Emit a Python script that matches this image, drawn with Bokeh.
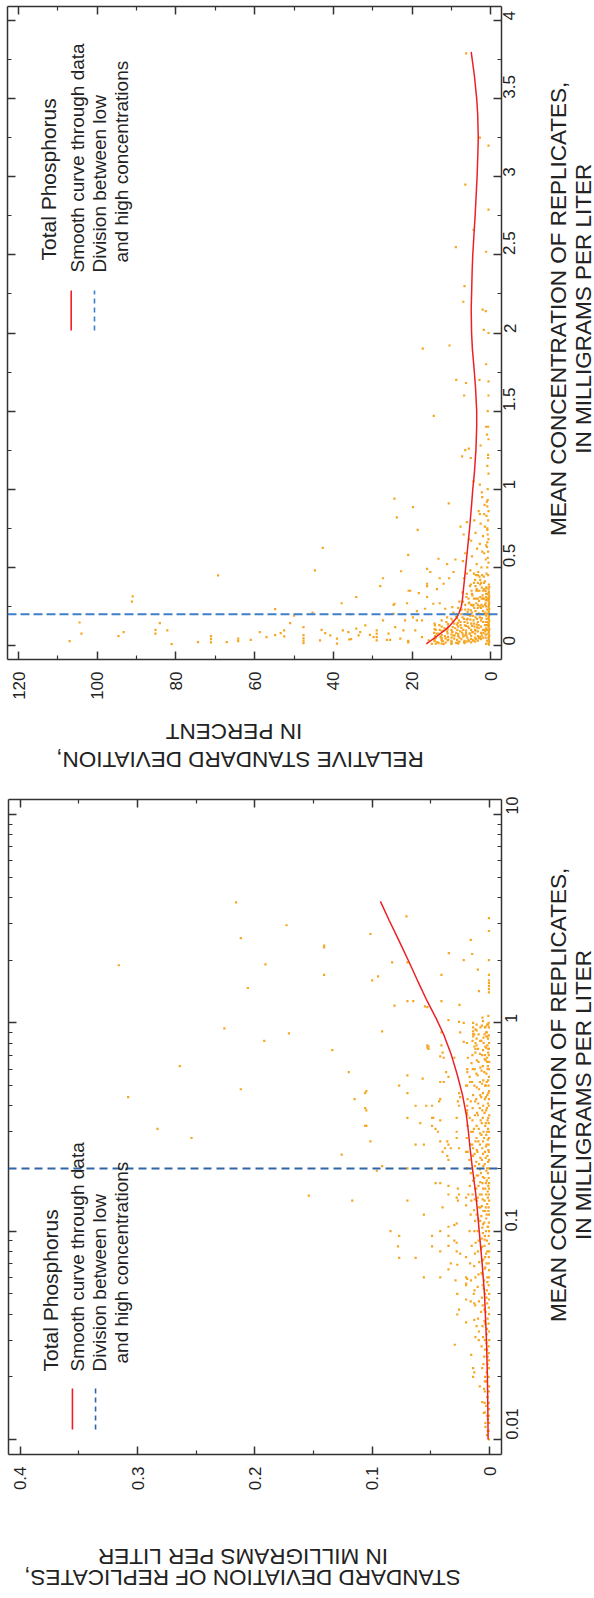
import math
from bokeh.plotting import figure
from bokeh.layouts import column, row
from bokeh.models import (Range1d, LinearAxis, LogAxis, FixedTicker,
                          CustomJSTickFormatter, Span, Label)
from bokeh.embed import file_html
from bokeh.resources import INLINE

# ---------------------------------------------------------------- data
# Upper panel: relative standard deviation (percent) vs mean concentration (mg/L)
top_conc_a = [3.79, 3.25, 3.20, 2.95, 2.79, 2.66, 2.55, 2.52, 2.30, 2.20,
              2.15, 2.14, 2.02, 2.00, 1.90, 1.92, 1.80, 1.70, 1.68, 1.70,
              1.69, 1.60, 1.60, 1.47, 1.40, 1.40, 1.32, 1.25, 1.26, 1.21,
              1.20, 1.20, 1.10, 1.05, 1.03, 0.98, 0.95, 0.94, 0.91, 0.89]
top_rsd_a = [6.3, 2.8, 0.6, 6.5, 0.6, 4.4, 8.9, 1.2, 6.7, 7.0,
             2.1, 1.3, 1.8, 0.6, 17.3, 10.5, 1.2, 8.8, 6.3, 2.9,
             0.6, 6.8, 0.6, 14.5, 0.7, 1.2, 0.6, 6.5, 5.6, 7.3,
             5.1, 0.7, 0.6, 4.4, 2.8, 2.3, 2.2, 24.5, 10.7, 0.9]

top_conc_b = [0.885, 0.84, 0.84, 0.82, 0.79, 0.76, 0.74, 0.78, 0.76, 0.71,
              0.68, 0.625, 0.66, 0.65, 0.59, 0.58, 0.59, 0.555, 0.55, 0.54,
              0.52, 0.48, 0.49, 0.475, 0.47, 0.46, 0.47, 0.44, 0.43, 0.43,
              0.43, 0.38, 0.38, 0.395, 0.31, 0.335, 0.35, 0.36, 0.31, 0.27,
              0.26, 0.27, 0.22, 0.235, 0.21, 0.20, 0.16]
top_rsd_b = [19.8, 2.8, 1.7, 23.9, 6.1, 7.7, 18.6, 2.6, 1.5, 6.9,
             5.6, 42.7, 0.9, 2.8, 6.5, 21.0, 1.7, 13.3, 9.0, 7.1,
             11.1, 44.7, 16.2, 22.8, 9.5, 6.1, 3.2, 1.8, 27.4, 13.0,
             10.6, 28.1, 16.2, 12.0, 34.2, 18.3, 20.5, 13.7, 16.2, 37.9,
             24.7, 13.0, 18.8, 11.6, 45.3, 35.7, 17.5]

top_conc_c = [0.448, 0.314, 0.28, 0.232, 0.147, 0.075, 0.028, 0.06, 0.085, 0.10,
              0.075, 0.143, 0.096, 0.008, 0.021, 0.06, 0.04, 0.02, 0.021, 0.043,
              0.028, 0.036, 0.085, 0.053, 0.066, 0.079, 0.096, 0.058, 0.143, 0.19]
top_rsd_c = [69.3, 91.0, 91.2, 54.8, 104.5, 104.0, 107.0, 94.6, 93.3, 85.2,
             85.2, 84.1, 82.2, 81.1, 74.4, 71.1, 71.1, 71.1, 67.1, 64.2,
             64.2, 61.0, 58.7, 57.0, 54.8, 53.4, 52.5, 52.5, 51.0, 50.0]

top_conc_d = [0.117, 0.066, 0.045, 0.03, 0.015, 0.032, 0.10, 0.079, 0.064, 0.043,
              0.011, 0.096, 0.085, 0.038, 0.04, 0.107, 0.064, 0.085, 0.128, 0.068,
              0.053, 0.032, 0.053, 0.075, 0.096, 0.16, 0.036, 0.075, 0.036, 0.203,
              0.267, 0.117, 0.043, 0.096, 0.16, 0.27, 0.35, 0.02, 0.025, 0.03,
              0.18, 0.096, 0.16, 0.053, 0.235, 0.395, 0.032, 0.47, 0.267, 0.128,
              0.10, 0.075]
top_rsd_d = [47.6, 47.6, 47.6, 47.6, 47.6, 43.4, 43.0, 42.1, 40.8, 39.1,
             39.1, 37.6, 36.2, 36.0, 35.5, 34.2, 33.6, 33.2, 31.9, 30.7,
             29.8, 29.0, 29.0, 29.0, 29.0, 27.4, 26.4, 26.0, 25.6, 24.7,
             24.5, 24.3, 23.0, 22.2, 21.8, 21.3, 20.9, 21.0, 21.0, 21.0,
             19.8, 19.2, 18.8, 17.5, 16.7, 16.2, 15.8, 15.4, 14.6, 14.2,
             14.0, 13.8]

top_conc_e = [0.005, 0.015, 0.025, 0.035, 0.045, 0.055, 0.065, 0.075, 0.085, 0.095,
              0.105, 0.115, 0.125, 0.135, 0.145, 0.155, 0.165, 0.175, 0.185, 0.195,
              0.205, 0.215, 0.225, 0.235, 0.245, 0.255, 0.265, 0.275, 0.285, 0.295,
              0.305, 0.315, 0.325, 0.335, 0.345, 0.36, 0.375, 0.39,
              0.01, 0.03, 0.05, 0.07, 0.09, 0.11, 0.13, 0.15, 0.17, 0.19,
              0.21, 0.23, 0.25, 0.27, 0.29, 0.31, 0.33, 0.35, 0.37]
top_rsd_e = [0.5, 0.6, 0.4, 0.5, 0.6, 0.5, 0.4, 0.6, 0.5, 0.5,
             0.4, 0.6, 0.5, 0.5, 0.6, 0.4, 0.5, 0.6, 0.5, 0.4,
             0.5, 0.6, 0.5, 0.4, 0.6, 0.5, 0.5, 0.4, 0.6, 0.5,
             0.5, 0.4, 0.6, 0.5, 0.5, 0.6, 0.4, 0.5,
             1.2, 1.0, 1.3, 1.1, 1.4, 1.2, 1.0, 1.3, 1.1, 1.2,
             1.4, 1.0, 1.2, 1.3, 1.1, 1.2, 1.0, 1.3, 1.1]

top_conc_f = [0.01, 0.012, 0.015, 0.02, 0.025, 0.03, 0.04, 0.05, 0.07, 0.1,
              0.015, 0.02, 0.025, 0.03, 0.035, 0.04, 0.05, 0.06, 0.08, 0.1, 0.13, 0.2,
              0.022, 0.03, 0.035, 0.04, 0.05, 0.06, 0.075, 0.09, 0.12, 0.15, 0.2, 0.3,
              0.035, 0.04, 0.05, 0.06, 0.07, 0.08, 0.1, 0.12, 0.15, 0.18, 0.2, 0.25, 0.3, 0.35,
              0.05, 0.06, 0.07, 0.08, 0.09, 0.1, 0.12, 0.14, 0.16, 0.18, 0.2, 0.25, 0.3, 0.35, 0.4,
              0.075, 0.09, 0.1, 0.11, 0.12, 0.13, 0.15, 0.17, 0.19, 0.21, 0.24, 0.27, 0.3, 0.35, 0.4, 0.45,
              0.1, 0.12, 0.14, 0.16, 0.18, 0.2, 0.23, 0.26, 0.3, 0.35, 0.4,
              0.13, 0.15, 0.17, 0.2, 0.23, 0.26, 0.3, 0.35, 0.4, 0.45]
top_rsd_f = [10.0, 8.3, 6.7, 5.0, 4.0, 3.3, 2.5, 2.0, 1.4, 1.0,
             13.3, 10.0, 8.0, 6.7, 5.7, 5.0, 4.0, 3.3, 2.5, 2.0, 1.5, 1.0,
             13.6, 10.0, 8.6, 7.5, 6.0, 5.0, 4.0, 3.3, 2.5, 2.0, 1.5, 1.0,
             14.3, 12.5, 10.0, 8.3, 7.1, 6.3, 5.0, 4.2, 3.3, 2.8, 2.5, 2.0, 1.7, 1.4,
             14.0, 11.7, 10.0, 8.8, 7.8, 7.0, 5.8, 5.0, 4.4, 3.9, 3.5, 2.8, 2.3, 2.0, 1.75,
             13.3, 11.1, 10.0, 9.1, 8.3, 7.7, 6.7, 5.9, 5.3, 4.8, 4.2, 3.7, 3.3, 2.9, 2.5, 2.2,
             13.0, 10.8, 9.3, 8.1, 7.2, 6.5, 5.7, 5.0, 4.3, 3.7, 3.3,
             13.1, 11.3, 10.0, 8.5, 7.4, 6.5, 5.7, 4.9, 4.3, 3.8]

top_conc_g = [0.008, 0.012, 0.018, 0.028, 0.033, 0.045, 0.055, 0.065, 0.085, 0.095,
              0.11, 0.016, 0.024, 0.032, 0.045, 0.055, 0.065, 0.075, 0.085, 0.095,
              0.11, 0.125, 0.135, 0.145, 0.165, 0.175, 0.185, 0.19, 0.205, 0.215,
              0.22, 0.225, 0.24, 0.245, 0.255, 0.26, 0.275, 0.28, 0.285, 0.29,
              0.31, 0.32, 0.33, 0.34, 0.36, 0.37, 0.38, 0.39, 0.41, 0.42,
              0.43, 0.44, 0.46, 0.48, 0.5, 0.52, 0.55, 0.57, 0.6, 0.62,
              0.64, 0.67, 0.7, 0.72, 0.75, 0.8, 0.83, 0.86, 0.9, 0.93,
              0.45, 0.5, 0.53, 0.56, 0.6, 0.63, 0.68, 0.71, 0.74, 0.8,
              0.86, 0.92, 1.0, 1.15, 1.22, 1.28, 1.35, 1.5]
top_rsd_g = [12.0, 14.0, 11.5, 12.2, 11.0, 11.5, 12.8, 9.2, 9.8, 12.0,
             11.8, 8.8, 6.2, 4.5, 3.1, 2.7, 6.5, 5.4, 4.6, 3.9,
             3.1, 6.3, 3.6, 8.4, 6.1, 2.3, 8.8, 4.7, 3.1, 5.9,
             2.0, 7.8, 3.3, 9.8, 4.6, 2.4, 5.5, 8.0, 3.0, 1.3,
             6.2, 2.1, 4.8, 7.2, 3.6, 1.2, 5.3, 2.7, 1.5, 4.0,
             6.8, 2.9, 1.1, 5.2, 2.4, 3.6, 1.3, 4.8, 2.2, 3.5,
             1.2, 5.0, 2.0, 3.9, 0.9, 4.2, 1.1, 3.1, 1.6, 0.8,
             0.7, 0.9, 0.6, 0.8, 0.7, 1.0, 0.6, 0.8, 0.9, 0.7,
             0.6, 1.0, 0.8, 0.9, 0.7, 2.6, 1.0, 0.8]

top_conc_h = [0.01, 0.012, 0.015, 0.018, 0.022, 0.027, 0.033, 0.04, 0.05, 0.065, 0.08, 0.1, 0.15,
              0.028, 0.032, 0.037, 0.043, 0.05, 0.057, 0.065, 0.075, 0.085, 0.1, 0.115, 0.13,
              0.16, 0.2, 0.26, 0.33,
              0.042, 0.048, 0.055, 0.063, 0.072, 0.082, 0.095, 0.11, 0.125, 0.14, 0.17, 0.2,
              0.24, 0.3, 0.36,
              0.06, 0.068, 0.077, 0.087, 0.1, 0.113, 0.128, 0.145, 0.165, 0.19, 0.22, 0.26,
              0.31, 0.37,
              0.08, 0.092, 0.105, 0.118, 0.133, 0.15, 0.17, 0.195, 0.225, 0.26, 0.3, 0.35, 0.42,
              0.105, 0.12, 0.137, 0.155, 0.175, 0.2, 0.23, 0.27, 0.32, 0.38, 0.45,
              0.14, 0.16, 0.18, 0.21, 0.24, 0.28, 0.33, 0.39, 0.46]
top_rsd_h = [15.0, 12.5, 10.0, 8.3, 6.8, 5.6, 4.5, 3.8, 3.0, 2.3, 1.9, 1.5, 1.0,
             14.3, 12.5, 10.8, 9.3, 8.0, 7.0, 6.2, 5.3, 4.7, 4.0, 3.5, 3.1,
             2.5, 2.0, 1.5, 1.2,
             14.3, 12.5, 10.9, 9.5, 8.3, 7.3, 6.3, 5.5, 4.8, 4.3, 3.5, 3.0,
             2.5, 2.0, 1.7,
             14.2, 12.5, 11.0, 9.8, 8.5, 7.5, 6.6, 5.9, 5.2, 4.5, 3.9, 3.3,
             2.7, 2.3,
             14.4, 12.5, 11.0, 9.7, 8.6, 7.7, 6.8, 5.9, 5.1, 4.4, 3.8, 3.3, 2.7,
             14.3, 12.5, 10.9, 9.7, 8.6, 7.5, 6.5, 5.6, 4.7, 3.9, 3.3,
             14.3, 12.5, 11.1, 9.5, 8.3, 7.1, 6.1, 5.1, 4.3]

top_curve_conc = [0.01, 0.03, 0.05, 0.075, 0.1, 0.125, 0.15, 0.175, 0.2, 0.25,
                  0.3, 0.35, 0.4, 0.5, 0.6, 0.75, 0.9, 1.0, 1.1, 1.25,
                  1.4, 1.5, 1.65, 1.75, 1.9, 2.0, 2.15, 2.25, 2.4, 2.5,
                  2.65, 2.75, 2.9, 3.0, 3.15, 3.25, 3.4, 3.5, 3.65, 3.8]
top_curve_rsd = [16.4, 15.3, 14.2, 12.9, 11.6, 10.5, 9.6, 8.8, 8.2, 7.5,
                 7.2, 7.0, 6.8, 6.4, 6.0, 5.4, 4.9, 4.6, 4.2, 3.8,
                 3.6, 3.6, 3.9, 4.2, 4.7, 4.9, 5.0, 4.9, 4.75, 4.6,
                 4.25, 4.0, 3.7, 3.5, 3.3, 3.2, 3.35, 3.6, 4.2, 5.0]

# Lower panel: standard deviation (mg/L) vs mean concentration (mg/L, log)
bot_conc_a = [3.79, 2.94, 2.55, 1.89, 1.91, 1.47, 0.94, 0.89, 0.82, 0.62,
              0.44, 0.48, 0.31, 0.28, 0.148, 0.14]
bot_sd_a = [0.216, 0.173, 0.212, 0.316, 0.191, 0.206, 0.226, 0.171, 0.192, 0.264,
            0.308, 0.212, 0.283, 0.254, 0.154, 0.117]

bot_conc_b = [3.24, 3.18, 2.76, 2.67, 2.5, 2.16, 2.14, 2.3, 2.35, 1.95,
              2.0, 2.0, 1.95, 1.8, 1.70, 1.67, 1.60, 1.70, 1.7, 1.6,
              1.55, 1.5, 1.45, 1.4, 1.42, 1.27, 1.27, 1.2, 1.19, 1.21,
              1.27, 1.22, 1.03, 1.01, 1.0, 1.0, 0.95, 0.91, 0.88, 0.86,
              0.91, 0.74, 0.77, 0.76, 0.78, 0.72, 0.68, 0.58, 0.50, 0.56,
              0.46, 0.54, 0.47, 0.43, 0.38, 0.32, 0.40, 0.35, 0.40, 0.35,
              0.31, 0.27, 0.27, 0.26, 0.26, 0.233, 0.195, 0.2, 0.22, 0.25,
              0.27]
bot_sd_b = [0.0708, 0.0005, 0.0005, 0.1015, 0.016, 0.0347, 0.0148, 0.141, 0.141, 0.070,
            0.022, 0.0005, 0.083, 0.010, 0.141, 0.095, 0.100, 0.041, 0.0005, 0.0005,
            0.0005, 0.0005, 0.0005, 0.0005, 0.009, 0.070, 0.065, 0.055, 0.053, 0.081,
            0.041, 0.0256, 0.035, 0.026, 0.022, 0.014, 0.014, 0.014, 0.014, 0.014,
            0.0915, 0.134, 0.052, 0.053, 0.041, 0.040, 0.039, 0.120, 0.077, 0.070,
            0.070, 0.057, 0.105, 0.115, 0.105, 0.105, 0.063, 0.070, 0.054, 0.048,
            0.046, 0.042, 0.1015, 0.063, 0.056, 0.126, 0.096, 0.039, 0.035, 0.033,
            0.036]

bot_conc_c = [1.06, 1.08, 0.98, 0.98, 0.93, 0.88, 0.84, 0.8, 0.77, 0.75,
              0.95, 0.9, 0.86, 0.8, 0.75, 0.7, 0.65, 0.9, 0.9, 0.81,
              0.78, 0.75, 0.69, 0.68, 0.6, 0.55, 0.5, 0.58, 0.55, 0.52,
              0.52, 0.46, 0.46, 0.44, 0.42, 0.4, 0.43, 0.42, 0.4, 0.39,
              0.4, 0.38, 0.36, 0.33, 0.35, 0.32, 0.34, 0.35, 0.3, 0.28,
              0.32, 0.3, 0.26, 0.25, 0.24, 0.23, 0.25, 0.23, 0.24, 0.25,
              0.205, 0.2, 0.2, 0.17, 0.17, 0.165, 0.16, 0.15, 0.145, 0.14]
bot_sd_c = [0.006, 0.001, 0.002, 0.011, 0.012, 0.013, 0.011, 0.012, 0.013, 0.012,
            0.004, 0.003, 0.002, 0.005, 0.001, 0.004, 0.002, 0.041, 0.025, 0.022,
            0.053, 0.052, 0.042, 0.030, 0.019, 0.017, 0.020, 0.037, 0.035, 0.039,
            0.042, 0.106, 0.026, 0.025, 0.027, 0.026, 0.042, 0.043, 0.049, 0.106,
            0.019, 0.019, 0.019, 0.059, 0.049, 0.049, 0.042, 0.028, 0.028, 0.028,
            0.106, 0.044, 0.035, 0.038, 0.040, 0.036, 0.026, 0.014, 0.020, 0.014,
            0.0915, 0.070, 0.049, 0.046, 0.042, 0.035, 0.027, 0.026, 0.028, 0.070]

bot_conc_d = [0.15, 0.14, 0.145, 0.15, 0.13, 0.12, 0.133, 0.1, 0.095, 0.095,
              0.1, 0.105, 0.107, 0.109, 0.095, 0.09, 0.088, 0.0845, 0.0845, 0.08,
              0.085, 0.08, 0.078, 0.075, 0.0745, 0.0745, 0.07, 0.069, 0.0655, 0.06,
              0.06, 0.058, 0.06, 0.059, 0.055, 0.056, 0.05, 0.0398, 0.05, 0.047,
              0.046, 0.045, 0.042, 0.0365, 0.0285, 0.0375, 0.035, 0.033, 0.031, 0.0255,
              0.022, 0.021, 0.02, 0.018, 0.019, 0.017, 0.0151, 0.0134]
bot_sd_d = [0.035, 0.027, 0.020, 0.018, 0.040, 0.056, 0.020, 0.0844, 0.077, 0.049,
            0.042, 0.035, 0.030, 0.028, 0.035, 0.030, 0.028, 0.078, 0.049, 0.042,
            0.035, 0.028, 0.025, 0.020, 0.077, 0.063, 0.033, 0.0275, 0.035, 0.056,
            0.042, 0.029, 0.020, 0.019, 0.020, 0.020, 0.0275, 0.0275, 0.0134, 0.020,
            0.016, 0.013, 0.026, 0.020, 0.0296, 0.013, 0.011, 0.009, 0.012, 0.0156,
            0.014, 0.013, 0.014, 0.0083, 0.004, 0.004, 0.0062, 0.0049]

bot_conc_e = [0.010, 0.011, 0.012, 0.013, 0.014, 0.015, 0.017, 0.018, 0.020, 0.022,
              0.024, 0.026, 0.028, 0.030, 0.033, 0.036, 0.040, 0.043, 0.047, 0.050,
              0.055, 0.060, 0.065, 0.070, 0.075, 0.080, 0.087, 0.095, 0.100, 0.110,
              0.120, 0.130, 0.140, 0.150, 0.160, 0.170, 0.180, 0.200, 0.220, 0.240,
              0.260, 0.280, 0.300, 0.330, 0.360, 0.400, 0.430, 0.470, 0.500, 0.550,
              0.600, 0.650, 0.700, 0.750, 0.800, 0.870, 0.950, 1.000]
bot_sd_e = [0.0005, 0.0008, 0.0003, 0.0006, 0.0004, 0.0007, 0.0005, 0.0003, 0.0008, 0.0005,
            0.0004, 0.0006, 0.0007, 0.0003, 0.0005, 0.0008, 0.0004, 0.0006, 0.0005, 0.0003,
            0.0007, 0.0005, 0.0004, 0.0008, 0.0006, 0.0003, 0.0005, 0.0007, 0.0004, 0.0006,
            0.0005, 0.0008, 0.0003, 0.0006, 0.0005, 0.0004, 0.0007, 0.0005, 0.0003, 0.0006,
            0.0008, 0.0004, 0.0005, 0.0007, 0.0003, 0.0006, 0.0005, 0.0004, 0.0008, 0.0005,
            0.0006, 0.0003, 0.0007, 0.0005, 0.0004, 0.0006, 0.0005, 0.0008]

bot_conc_f = [0.011, 0.013, 0.016, 0.019, 0.023, 0.027, 0.032, 0.038, 0.045, 0.052,
              0.06, 0.07, 0.08, 0.09, 0.105, 0.12, 0.135, 0.155, 0.175, 0.2,
              0.23, 0.26, 0.3, 0.34, 0.39, 0.45, 0.52, 0.6, 0.68, 0.78, 0.9,
              0.012, 0.015, 0.02, 0.025, 0.03, 0.036, 0.042, 0.05, 0.058, 0.066,
              0.075, 0.085, 0.095, 0.11, 0.125, 0.14, 0.16, 0.18, 0.21, 0.24,
              0.28, 0.32, 0.37, 0.43, 0.5, 0.58, 0.67, 0.77, 0.88,
              0.022, 0.028, 0.035, 0.041, 0.048, 0.055, 0.063, 0.072, 0.082, 0.092,
              0.104, 0.118, 0.132, 0.15, 0.17, 0.19, 0.22, 0.25, 0.29, 0.33,
              0.38, 0.44, 0.51, 0.59, 0.7, 0.82, 0.97,
              0.03, 0.038, 0.046, 0.054, 0.062, 0.071, 0.08, 0.09, 0.1, 0.115,
              0.13, 0.145, 0.165, 0.185, 0.21, 0.24, 0.27, 0.31, 0.36, 0.41,
              0.48, 0.56, 0.65, 0.75, 0.88,
              0.044, 0.052, 0.06, 0.068, 0.078, 0.088, 0.1, 0.112, 0.126, 0.142,
              0.16, 0.18, 0.205, 0.235, 0.27, 0.31, 0.36, 0.42, 0.5, 0.6, 0.72,
              0.058, 0.07, 0.085, 0.1, 0.12, 0.14, 0.165, 0.19, 0.22, 0.26,
              0.3, 0.35, 0.42, 0.52, 0.64]
bot_sd_f = [0.0015, 0.0022, 0.0018, 0.0025, 0.0017, 0.0021, 0.0024, 0.0016, 0.0020, 0.0023,
            0.0018, 0.0026, 0.0019, 0.0022, 0.0017, 0.0024, 0.0020, 0.0016, 0.0023, 0.0021,
            0.0018, 0.0025, 0.0020, 0.0017, 0.0022, 0.0019, 0.0024, 0.0016, 0.0021, 0.0018, 0.0023,
            0.0035, 0.0042, 0.0038, 0.0045, 0.0040, 0.0036, 0.0044, 0.0039, 0.0046, 0.0041,
            0.0037, 0.0043, 0.0040, 0.0045, 0.0038, 0.0042, 0.0036, 0.0044, 0.0041, 0.0039,
            0.0046, 0.0037, 0.0043, 0.0040, 0.0038, 0.0045, 0.0041, 0.0036, 0.0043,
            0.0062, 0.0068, 0.0060, 0.0071, 0.0065, 0.0059, 0.0069, 0.0063, 0.0072, 0.0066,
            0.0061, 0.0070, 0.0064, 0.0067, 0.0060, 0.0073, 0.0065, 0.0062, 0.0069, 0.0066,
            0.0061, 0.0071, 0.0064, 0.0068, 0.0063, 0.0070, 0.0065,
            0.0092, 0.0098, 0.0090, 0.0101, 0.0094, 0.0088, 0.0099, 0.0093, 0.0102, 0.0096,
            0.0091, 0.0100, 0.0094, 0.0097, 0.0089, 0.0103, 0.0095, 0.0092, 0.0099, 0.0096,
            0.0090, 0.0101, 0.0094, 0.0098, 0.0093,
            0.0122, 0.0128, 0.0120, 0.0131, 0.0124, 0.0118, 0.0129, 0.0123, 0.0132, 0.0126,
            0.0121, 0.0130, 0.0124, 0.0127, 0.0119, 0.0133, 0.0125, 0.0122, 0.0129, 0.0126, 0.0121,
            0.0158, 0.0165, 0.0152, 0.0170, 0.0161, 0.0155, 0.0168, 0.0159, 0.0172, 0.0163,
            0.0156, 0.0169, 0.0160, 0.0166, 0.0154]

bot_conc_g = [0.105, 0.125, 0.145, 0.165, 0.19, 0.215, 0.245, 0.275, 0.31, 0.35,
              0.41, 0.46, 0.53, 0.62, 0.72, 0.84, 0.98,
              0.1, 0.115, 0.13, 0.15, 0.17, 0.195, 0.225, 0.255, 0.29, 0.33,
              0.38, 0.44, 0.5, 0.57, 0.66, 0.76, 0.86, 0.96,
              0.108, 0.125, 0.142, 0.16, 0.182, 0.205, 0.235, 0.27, 0.3, 0.35,
              0.4, 0.46, 0.53, 0.62, 0.74, 0.85, 1.02,
              0.112, 0.13, 0.15, 0.172, 0.198, 0.225, 0.26, 0.295, 0.34, 0.39,
              0.45, 0.52, 0.61, 0.71, 0.82, 0.95,
              0.12, 0.14, 0.16, 0.185, 0.215, 0.245, 0.28, 0.32, 0.37, 0.43,
              0.49, 0.57, 0.66, 0.78, 0.92,
              0.15, 0.175, 0.2, 0.23, 0.26, 0.3, 0.34, 0.39, 0.45, 0.52,
              0.6, 0.7, 0.82,
              0.2, 0.24, 0.28, 0.32, 0.37, 0.43, 0.5, 0.58, 0.68, 0.8,
              0.0105, 0.0115, 0.0125, 0.0135, 0.0145, 0.016, 0.0175, 0.019, 0.021, 0.023,
              0.025, 0.027, 0.029, 0.031, 0.034, 0.037, 0.041, 0.044, 0.048, 0.053,
              0.057, 0.062, 0.067, 0.073, 0.078, 0.084, 0.091, 0.098]
bot_sd_g = [0.0012, 0.0010, 0.0014, 0.0011, 0.0013, 0.0012, 0.0010, 0.0014, 0.0012, 0.0011,
            0.0013, 0.0010, 0.0012, 0.0014, 0.0011, 0.0013, 0.0012,
            0.0030, 0.0028, 0.0032, 0.0029, 0.0031, 0.0027, 0.0033, 0.0030, 0.0028, 0.0032,
            0.0029, 0.0031, 0.0030, 0.0027, 0.0033, 0.0030, 0.0028, 0.0032,
            0.0055, 0.0052, 0.0058, 0.0054, 0.0057, 0.0053, 0.0056, 0.0055, 0.0051, 0.0058,
            0.0054, 0.0056, 0.0053, 0.0057, 0.0055, 0.0052, 0.0056,
            0.0080, 0.0077, 0.0083, 0.0079, 0.0082, 0.0078, 0.0081, 0.0080, 0.0076, 0.0083,
            0.0079, 0.0082, 0.0078, 0.0081, 0.0080, 0.0077,
            0.0110, 0.0107, 0.0113, 0.0109, 0.0112, 0.0108, 0.0111, 0.0110, 0.0106, 0.0113,
            0.0109, 0.0112, 0.0108, 0.0111, 0.0110,
            0.0145, 0.0141, 0.0148, 0.0143, 0.0147, 0.0142, 0.0146, 0.0144, 0.0140, 0.0148,
            0.0143, 0.0146, 0.0145,
            0.0190, 0.0186, 0.0194, 0.0188, 0.0192, 0.0187, 0.0191, 0.0189, 0.0185, 0.0193,
            0.0022, 0.0035, 0.0014, 0.0041, 0.0028, 0.0019, 0.0047, 0.0031, 0.0024, 0.0052,
            0.0016, 0.0038, 0.0027, 0.0055, 0.0021, 0.0044, 0.0033, 0.0058, 0.0026, 0.0049,
            0.0018, 0.0061, 0.0036, 0.0053, 0.0029, 0.0064, 0.0042, 0.0057]

bot_curve_conc = [0.01, 0.015, 0.02, 0.03, 0.05, 0.07, 0.1, 0.13, 0.155, 0.2,
                  0.25, 0.3, 0.362, 0.45, 0.563, 0.7, 0.877, 1.05, 1.27, 1.6,
                  1.97, 2.5, 3.1, 3.83]
bot_curve_sd = [0.0012, 0.0015, 0.0018, 0.0026, 0.0043, 0.0063, 0.0088, 0.0106, 0.012, 0.0146,
                0.0166, 0.0180, 0.0198, 0.0230, 0.0275, 0.0325, 0.039, 0.0455, 0.0531, 0.0615,
                0.0688, 0.0775, 0.0855, 0.093]

division_conc = [0.2]   # boundary between low and high concentrations, mg/L

# axis ticks
rsd_ticks = [0, 20, 40, 60, 80, 100, 120]
rsd_labels = ["0", "20", "40", "60", "80", "100", "120"]
rsd_minor = [10, 30, 50, 70, 90, 110]
lin_conc_ticks = [0, 0.5, 1, 1.5, 2, 2.5, 3, 3.5, 4]
lin_conc_labels = ["0", "0.5", "1", "1.5", "2", "2.5", "3", "3.5", "4"]
lin_conc_minor = [0.25, 0.75, 1.25, 1.75, 2.25, 2.75, 3.25, 3.75]
sd_ticks = [0, 0.1, 0.2, 0.3, 0.4]
sd_labels = ["0", "0.1", "0.2", "0.3", "0.4"]
sd_minor = [0.05, 0.15, 0.25, 0.35]
log_conc_ticks = [0.01, 0.1, 1, 10]
log_conc_labels = ["0.01", "0.1", "1", "10"]
log_conc_minor = [0.02, 0.03, 0.04, 0.05, 0.06, 0.07, 0.08, 0.09,
                  0.2, 0.3, 0.4, 0.5, 0.6, 0.7, 0.8, 0.9,
                  2, 3, 4, 5, 6, 7, 8, 9]

top_conc = (top_conc_a + top_conc_b + top_conc_c + top_conc_d + top_conc_e
            + top_conc_f + top_conc_g + top_conc_h)
top_rsd = (top_rsd_a + top_rsd_b + top_rsd_c + top_rsd_d + top_rsd_e
           + top_rsd_f + top_rsd_g + top_rsd_h)
bot_conc = bot_conc_a + bot_conc_b + bot_conc_c + bot_conc_d + bot_conc_e + bot_conc_f + bot_conc_g
bot_sd = bot_sd_a + bot_sd_b + bot_sd_c + bot_sd_d + bot_sd_e + bot_sd_f + bot_sd_g
assert len(top_conc) == len(top_rsd) and len(bot_conc) == len(bot_sd)

# ---------------------------------------------------------------- style
POINT = "#f6a623"
CURVE = "#ec2127"
AXIS = "#333333"
TEXT = "#222222"
SANS = "Liberation Sans"
UP = math.pi / 2
TITLE_SIZE = "22.5px"


def label_formatter(values, labels):
    return CustomJSTickFormatter(args=dict(vals=values, labs=labels), code="""
        const i = vals.findIndex((v) => Math.abs(v - tick) <= 1e-9 * Math.max(1, Math.abs(v)));
        return i >= 0 ? labs[i] : "";
    """)


def make_axis(cls, ticks, minor, labels, font_size=None, standoff=0):
    ax = cls(ticker=FixedTicker(ticks=ticks, minor_ticks=minor))
    ax.axis_line_color = AXIS
    ax.axis_line_width = 1.5
    ax.major_tick_in = 8
    ax.major_tick_out = 0
    ax.minor_tick_in = 4
    ax.minor_tick_out = 0
    ax.major_tick_line_color = AXIS
    ax.major_tick_line_width = 1.5
    ax.minor_tick_line_color = AXIS
    ax.minor_tick_line_width = 1.2
    if labels is None:
        ax.formatter = CustomJSTickFormatter(code="return ''")
        ax.major_label_text_font_size = "1px"
        ax.major_label_standoff = 0
    else:
        ax.formatter = label_formatter(ticks, labels)
        ax.major_label_text_font = SANS
        ax.major_label_text_font_size = font_size
        ax.major_label_text_color = TEXT
        ax.major_label_standoff = standoff
    ax.major_label_orientation = UP
    return ax


def add_text(p, x, y, text, size):
    p.add_layout(Label(x=x, y=y, text=text, angle=UP, text_font=SANS,
                       text_font_size=size, text_color=TEXT, text_align="left",
                       text_baseline="alphabetic"))


def add_legend(p, xs, ys, red_x, blue_x, key_y, blue):
    add_text(p, xs[0], ys[0], "Total Phosphorus", "21px")
    add_text(p, xs[1], ys[1], "Smooth curve through data", "19px")
    add_text(p, xs[2], ys[1], "Division between low", "19px")
    add_text(p, xs[3], ys[2], "and high concentrations", "19px")
    p.line([red_x, red_x], key_y, line_color=CURVE, line_width=1.6)
    p.line([blue_x, blue_x], key_y, line_color=blue, line_width=1.6,
           line_dash="5 4")


def title_strip(width, height, lines):
    """A bare canvas (1 unit = 1 px) holding rotated axis-title lines."""
    f = figure(width=width, height=height, x_range=Range1d(0, width),
               y_range=Range1d(0, height), min_border=0,
               x_axis_location=None, y_axis_location=None,
               output_backend="svg", toolbar_location=None)
    f.grid.visible = False
    f.outline_line_color = None
    for x, y, angle, text in lines:
        f.add_layout(Label(x=x, y=y, text=text, angle=angle, text_font=SANS,
                           text_font_size=TITLE_SIZE, text_color=TEXT,
                           text_align="center", text_baseline="middle"))
    return f


def panel(x_range, y_range, frame_w, frame_h, left, top, log=False):
    p = figure(x_range=x_range, y_range=y_range,
               y_axis_type="log" if log else "linear",
               frame_width=frame_w, frame_height=frame_h,
               min_border_left=left, min_border_right=30,
               min_border_top=top, min_border_bottom=42,
               x_axis_location=None, y_axis_location=None,
               output_backend="svg", toolbar_location=None)
    p.grid.visible = False
    p.outline_line_color = None
    return p


# ---------------------------------------------------------------- upper panel
p1 = panel(Range1d(122.8, -2.7), Range1d(-0.09, 4.09), 494, 653, 7, 6)
p1.add_layout(make_axis(LinearAxis, rsd_ticks, rsd_minor, rsd_labels, "17px", 12), "below")
p1.add_layout(make_axis(LinearAxis, rsd_ticks, rsd_minor, None), "above")
p1.add_layout(make_axis(LinearAxis, lin_conc_ticks, lin_conc_minor, lin_conc_labels, "17px", 8), "right")
p1.add_layout(make_axis(LinearAxis, lin_conc_ticks, lin_conc_minor, None), "left")

p1.scatter(top_rsd, top_conc, marker="square", size=2.2,
           fill_color=POINT, line_color=None)
p1.line(top_curve_rsd, top_curve_conc, line_color=CURVE, line_width=1.5)
p1.add_layout(Span(location=division_conc[0], dimension="width",
                   line_color="#3f7fca", line_width=2, line_dash="9 4"))

add_legend(p1, [112.38, 104.94, 99.35, 93.91], [2.464, 2.387, 2.451],
           106.62, 100.70, [2.016, 2.272], "#3f7fca")

t1r = title_strip(63, 701, [
    (26.5, 376, UP, "MEAN CONCENTRATION OF REPLICATES,"),
    (51.5, 376, UP, "IN MILLIGRAMS PER LITER"),
])
t1b = title_strip(594, 89, [
    (239.5, 32.5, math.pi, "RELATIVE STANDARD DEVIATION,"),
    (233.5, 60, math.pi, "IN PERCENT"),
])

# ---------------------------------------------------------------- lower panel
p2 = panel(Range1d(0.410, -0.0102), Range1d(10 ** -2.072, 10 ** 1.072),
           493, 655, 8, 8, log=True)
p2.add_layout(make_axis(LinearAxis, sd_ticks, sd_minor, sd_labels, "17px", 12), "below")
p2.add_layout(make_axis(LinearAxis, sd_ticks, sd_minor, None), "above")
p2.add_layout(make_axis(LogAxis, log_conc_ticks, log_conc_minor, log_conc_labels, "16px", 10), "right")
p2.add_layout(make_axis(LogAxis, log_conc_ticks, log_conc_minor, None), "left")

p2.scatter(bot_sd, bot_conc, marker="square", size=2.2,
           fill_color=POINT, line_color=None)
p2.line(bot_curve_sd, bot_curve_conc, line_color=CURVE, line_width=1.5)
p2.add_layout(Span(location=division_conc[0], dimension="width",
                   line_color="#2f64a6", line_width=2, line_dash="8 5"))

add_legend(p2, [0.3742, 0.3509, 0.3322, 0.3139], [0.02121, 0.02121, 0.02317],
           0.3555, 0.3358, [0.01117, 0.01758], "#2f64a6")

t2r = title_strip(63, 705, [
    (26.5, 387, UP, "MEAN CONCENTRATION OF REPLICATES,"),
    (51.5, 387, UP, "IN MILLIGRAMS PER LITER"),
])
t2b = title_strip(594, 103, [
    (242, 22.5, math.pi, "STANDARD DEVIATION OF REPLICATES,"),
    (242.5, 43.5, math.pi, "IN MILLIGRAMS PER LITER"),
])

layout = column(row(p1, t1r, spacing=0), t1b, row(p2, t2r, spacing=0), t2b, spacing=0)
open("out.html", "w").write(file_html(layout, INLINE))
